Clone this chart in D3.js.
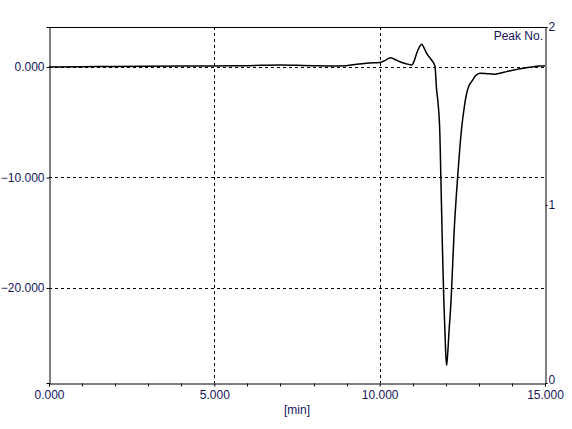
<!DOCTYPE html>
<html>
<head>
<meta charset="utf-8">
<script src="https://cdn.jsdelivr.net/npm/d3@7"></script>
<style>
  body { margin: 0; background: #fff; }
  text { font-family: "Liberation Sans", Arial, sans-serif; font-size: 12px; fill: #14145a; }
</style>
</head>
<body>
<div id="holder"></div>
<script>
// chromatogram trace
var times = [0, 1, 2, 3, 4, 5, 6, 7, 7.5, 8, 8.5, 9, 9.3, 9.6, 10.0, 10.2, 10.33, 10.45, 10.61, 10.8, 10.97,
  11.05, 11.12, 11.2, 11.27, 11.33, 11.42, 11.5, 11.57, 11.67, 11.72, 11.77, 11.82, 11.85, 11.9, 11.94, 11.98,
  12.02, 12.04, 12.1, 12.16, 12.25, 12.36, 12.48, 12.56, 12.63, 12.7, 12.78, 12.9, 13.03, 13.2, 13.44, 13.6,
  13.84, 14.1, 14.34, 14.6, 14.85, 15.0];
var signal = [0, 0.02, 0.05, 0.06, 0.08, 0.1, 0.12, 0.18, 0.15, 0.12, 0.1, 0.12, 0.25, 0.35, 0.4, 0.65, 0.84, 0.7, 0.48, 0.3, 0.18,
  0.6, 1.24, 1.8, 2.05, 1.8, 1.24, 0.9, 0.63, 0.1, -2.0, -3.4, -6.0, -9.9, -16.6, -21.1, -24.5,
  -27.0, -26.6, -23.8, -21.1, -15.0, -9.9, -5.5, -3.6, -2.4, -1.7, -1.33, -0.8, -0.57, -0.58, -0.66, -0.58,
  -0.42, -0.25, -0.12, 0.0, 0.09, 0.12];

var xTicks = [0, 5, 10, 15];
var xMinor = [1, 2, 3, 4, 6, 7, 8, 9, 11, 12, 13, 14];
var yTicks = [0, -10, -20];
var peakTicks = [0, 1, 2];

var width = 572, height = 429;
var margin = {top: 27, right: 27, bottom: 46, left: 49};

var svg = d3.select("#holder").append("svg")
    .attr("width", width)
    .attr("height", height);

var x = d3.scaleLinear().domain([0, 15]).range([margin.left, width - margin.right]);
var y = d3.scaleLinear().domain([-28.6, 3.62]).range([height - margin.bottom, margin.top]);
var yPeak = d3.scaleLinear().domain([0, 2]).range([height - margin.bottom, margin.top]);

// dashed grid
svg.append("g")
  .selectAll("line")
  .data(xTicks.slice(1, -1))
  .enter().append("line")
  .attr("x1", d => Math.round(x(d)) + 0.5).attr("x2", d => Math.round(x(d)) + 0.5)
  .attr("y1", margin.top).attr("y2", height - margin.bottom)
  .attr("stroke", "#000").attr("stroke-dasharray", "3,3");

svg.append("g")
  .selectAll("line")
  .data(yTicks)
  .enter().append("line")
  .attr("y1", d => Math.round(y(d)) + 0.5).attr("y2", d => Math.round(y(d)) + 0.5)
  .attr("x1", margin.left).attr("x2", width - margin.right)
  .attr("stroke", "#000").attr("stroke-dasharray", "3,3");

// axes
var xAxis = svg.append("g")
  .attr("transform", "translate(0," + (height - margin.bottom + 0.5) + ")")
  .call(d3.axisBottom(x).tickValues(xTicks).tickFormat(d3.format(".3f")).tickSize(3).tickPadding(4));
xAxis.append("g").selectAll("line")
  .data(xMinor).enter().append("line")
  .attr("x1", d => Math.round(x(d)) + 0.5).attr("x2", d => Math.round(x(d)) + 0.5)
  .attr("y1", 0).attr("y2", 3).attr("stroke", "#000");

var yAxis = svg.append("g")
  .attr("transform", "translate(" + (margin.left + 0.5) + ",0)")
  .call(d3.axisLeft(y).tickValues(yTicks).tickFormat(d3.format(".3f")).tickSize(3).tickPadding(2));

var rAxis = svg.append("g")
  .attr("transform", "translate(" + (width - margin.right + 0.5) + ",0)")
  .call(d3.axisRight(yPeak).tickValues(peakTicks).tickFormat(d3.format("d")).tickSize(2).tickPadding(1));

[xAxis, yAxis, rAxis].forEach(function(a) {
  a.select(".domain").attr("stroke", "#000");
  a.selectAll(".tick line").attr("stroke", "#000");
  a.selectAll("text").attr("fill", "#14145a").style("font-size", "12px")
    .style("font-family", "'Liberation Sans', Arial, sans-serif");
});
rAxis.selectAll(".tick text").attr("dy", d => d === 0 ? "0.05em" : "0.3em");

// top border
svg.append("line")
  .attr("x1", margin.left).attr("x2", width - margin.right + 1)
  .attr("y1", margin.top + 0.5).attr("y2", margin.top + 0.5)
  .attr("stroke", "#000");

// trace
var pts = times.map((t, i) => [t, signal[i]]);
var line = d3.line()
  .x(d => x(d[0]))
  .y(d => y(d[1]))
  .curve(d3.curveMonotoneX);

svg.append("path")
  .datum(pts)
  .attr("d", line)
  .attr("fill", "none")
  .attr("stroke", "#000")
  .attr("stroke-width", 1.5);

// labels
svg.append("text")
  .attr("x", (margin.left + width - margin.right) / 2)
  .attr("y", 414)
  .attr("text-anchor", "middle")
  .text("[min]");

svg.append("text")
  .attr("x", width - margin.right - 2)
  .attr("y", 40)
  .attr("text-anchor", "end")
  .text("Peak No.");
</script>
</body>
</html>
